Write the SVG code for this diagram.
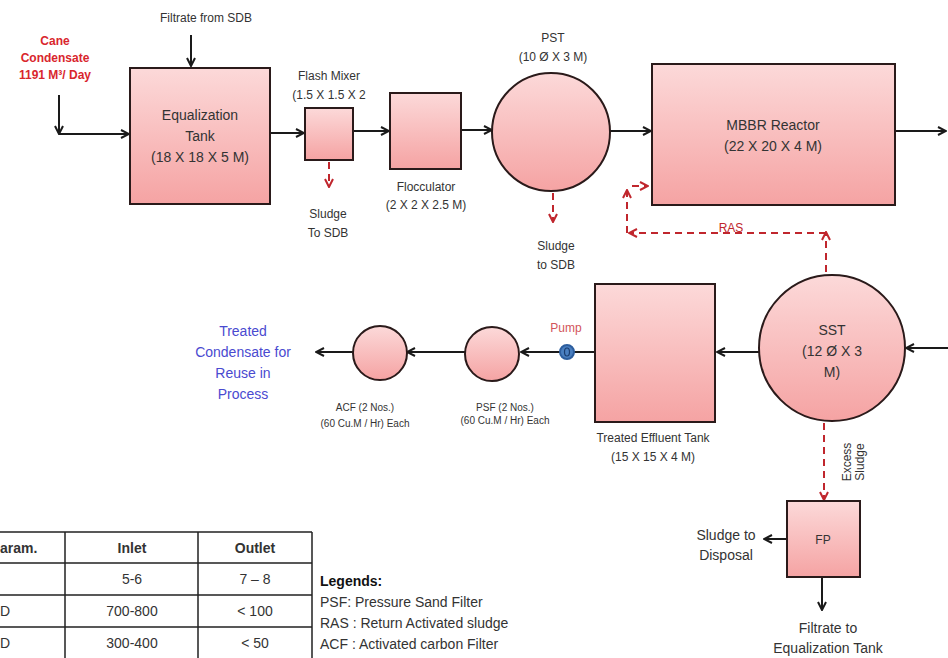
<svg xmlns="http://www.w3.org/2000/svg" width="948" height="658" viewBox="0 0 948 658">
<defs>
<linearGradient id="pink" x1="0" y1="0" x2="0" y2="1">
<stop offset="0" stop-color="#fcd9d9"/>
<stop offset="1" stop-color="#f5a3a3"/>
</linearGradient>
<marker id="ah" viewBox="0 0 10 10" refX="9" refY="5" markerWidth="10" markerHeight="10" markerUnits="userSpaceOnUse" orient="auto">
<path d="M1,1 L9,5 L1,9" fill="none" stroke="#1a1a1a" stroke-width="2"/>
</marker>
<marker id="rah" viewBox="0 0 10 10" refX="9" refY="5" markerWidth="10" markerHeight="10" markerUnits="userSpaceOnUse" orient="auto">
<path d="M1,1 L9,5 L1,9" fill="none" stroke="#c0262d" stroke-width="2"/>
</marker>
</defs>
<style>
text{font-family:"Liberation Sans",Arial,sans-serif;fill:#333;text-anchor:middle}
.big{font-size:14px}
.sm{font-size:12px}
.xs{font-size:10px}
.shape{fill:url(#pink);stroke:#2a1a1a;stroke-width:2}
.ln{stroke:#1a1a1a;stroke-width:2;fill:none}
.dash{stroke:#c0262d;stroke-width:2;fill:none;stroke-dasharray:7,5}
.tbl{stroke:#222;stroke-width:1.5;fill:none}
</style>
<rect width="948" height="658" fill="#fff"/>

<g id="connectors">
<path class="ln" d="M191,35 V66" marker-end="url(#ah)"/>
<path class="ln" d="M59,95 V134" marker-end="url(#ah)"/>
<path class="ln" d="M59,134 H129" marker-end="url(#ah)"/>
<path class="ln" d="M270,133 H304" marker-end="url(#ah)"/>
<path class="ln" d="M353,131 H389" marker-end="url(#ah)"/>
<path class="ln" d="M461,130 H492" marker-end="url(#ah)"/>
<path class="ln" d="M610,131 H651" marker-end="url(#ah)"/>
<path class="ln" d="M895,131 H946" marker-end="url(#ah)"/>
<path class="ln" d="M948,348 H906" marker-end="url(#ah)"/>
<path class="ln" d="M759,352 H717" marker-end="url(#ah)"/>
<path class="ln" d="M595,352 H574"/>
<path class="ln" d="M560,352 H521" marker-end="url(#ah)"/>
<path class="ln" d="M465,352 H407" marker-end="url(#ah)"/>
<path class="ln" d="M353,352 H316" marker-end="url(#ah)"/>
<path class="ln" d="M787,539 H764" marker-end="url(#ah)"/>
<path class="ln" d="M822,577 V610" marker-end="url(#ah)"/>
<path class="dash" d="M329,162 V187" marker-end="url(#rah)"/>
<path class="dash" d="M553,193 V222" marker-end="url(#rah)"/>
<path class="dash" d="M826,272 V232" marker-end="url(#rah)"/>
<path class="dash" d="M826,233 H629" marker-end="url(#rah)"/>
<path class="dash" d="M627,233 V190" marker-end="url(#rah)"/>
<path class="dash" d="M632,186 H648" marker-end="url(#rah)"/>
<path class="dash" d="M824,423 V500" marker-end="url(#rah)"/>
<text x="731" y="232" class="sm" style="fill:#c0262d">RAS</text>
<g transform="translate(851,462) rotate(-90)"><text x="0" y="0" class="sm">Excess</text><text x="0" y="13" class="sm">Sludge</text></g>
</g>

<g id="cane">
<text x="55" y="45" class="sm" style="fill:#d9262d;font-weight:bold">Cane</text>
<text x="55" y="62" class="sm" style="fill:#d9262d;font-weight:bold">Condensate</text>
<text x="55" y="79" class="sm" style="fill:#d9262d;font-weight:bold">1191 M³/ Day</text>
</g>
<g id="filtrate-sdb"><text x="206" y="22" class="sm">Filtrate from SDB</text></g>

<g id="eq">
<rect class="shape" x="130" y="68" width="140" height="136"/>
<text x="200" y="120" class="big">Equalization</text>
<text x="200" y="141" class="big">Tank</text>
<text x="200" y="162" class="big">(18 X 18 X 5 M)</text>
</g>

<g id="flash">
<rect class="shape" x="305" y="108" width="48" height="52"/>
<text x="329" y="80" class="sm">Flash Mixer</text>
<text x="329" y="99" class="sm">(1.5 X 1.5 X 2</text>
<text x="328" y="218" class="sm">Sludge</text>
<text x="328" y="237" class="sm">To SDB</text>
</g>

<g id="floc">
<rect class="shape" x="390" y="93" width="71" height="76"/>
<text x="426" y="191" class="sm">Flocculator</text>
<text x="426" y="209" class="sm">(2 X  2 X 2.5 M)</text>
</g>

<g id="pst">
<circle class="shape" cx="551" cy="132" r="59"/>
<text x="553" y="42" class="sm">PST</text>
<text x="553" y="61" class="sm">(10 Ø X 3 M)</text>
<text x="556" y="250" class="sm">Sludge</text>
<text x="556" y="269" class="sm">to SDB</text>
</g>

<g id="mbbr">
<rect class="shape" x="652" y="64" width="243" height="141"/>
<text x="773" y="130" class="big">MBBR Reactor</text>
<text x="773" y="151" class="big">(22 X 20 X 4 M)</text>
</g>

<g id="sst">
<circle class="shape" cx="832" cy="348" r="73"/>
<text x="832" y="335" class="big">SST</text>
<text x="832" y="356" class="big">(12 Ø X 3</text>
<text x="832" y="377" class="big">M)</text>
</g>

<g id="tet">
<rect class="shape" x="595" y="284" width="120" height="138"/>
<text x="653" y="442" class="sm">Treated Effluent Tank</text>
<text x="653" y="461" class="sm">(15 X 15 X 4 M)</text>
</g>

<g id="pump">
<circle cx="567" cy="352" r="7" fill="#4a7fc0" stroke="#2d5e9e" stroke-width="2"/>
<ellipse cx="567" cy="352" rx="2.5" ry="4" fill="none" stroke="#1a3d70" stroke-width="1.2"/>
<text x="566" y="332" class="sm" style="fill:#d2555a">Pump</text>
</g>

<g id="psf">
<circle class="shape" cx="492" cy="354" r="27"/>
<text x="505" y="411" class="xs">PSF (2 Nos.)</text>
<text x="505" y="424" class="xs">(60 Cu.M / Hr) Each</text>
</g>

<g id="acf">
<circle class="shape" cx="380" cy="353" r="27"/>
<text x="365" y="411" class="xs">ACF (2 Nos.)</text>
<text x="365" y="427" class="xs">(60 Cu.M / Hr) Each</text>
</g>

<g id="treated">
<text x="243" y="336" class="big" style="fill:#4a4ad0">Treated</text>
<text x="243" y="357" class="big" style="fill:#4a4ad0">Condensate for</text>
<text x="243" y="378" class="big" style="fill:#4a4ad0">Reuse in</text>
<text x="243" y="399" class="big" style="fill:#4a4ad0">Process</text>
</g>

<g id="fp">
<rect class="shape" x="787" y="501" width="73" height="76"/>
<text x="823" y="544" class="sm">FP</text>
<text x="726" y="540" class="big">Sludge to</text>
<text x="726" y="560" class="big">Disposal</text>
<text x="828" y="633" class="big">Filtrate to</text>
<text x="828" y="653" class="big">Equalization Tank</text>
</g>

<g id="table">
<path class="tbl" d="M0,532 H312 M0,563 H312 M0,595 H312 M0,627 H312 M65,532 V658 M198,532 V658 M312,532 V658"/>
<text x="0" y="553" class="big" style="text-anchor:start;font-weight:bold">aram.</text>
<text x="132" y="553" class="big" style="font-weight:bold">Inlet</text>
<text x="255" y="553" class="big" style="font-weight:bold">Outlet</text>
<text x="132" y="584" class="big">5-6</text>
<text x="255" y="584" class="big">7 – 8</text>
<text x="0" y="616" class="big" style="text-anchor:start">D</text>
<text x="132" y="616" class="big">700-800</text>
<text x="255" y="616" class="big">&lt; 100</text>
<text x="0" y="648" class="big" style="text-anchor:start">D</text>
<text x="132" y="648" class="big">300-400</text>
<text x="255" y="648" class="big">&lt; 50</text>
</g>

<g id="legend">
<text x="320" y="586" class="big" style="text-anchor:start;font-weight:bold;fill:#111">Legends:</text>
<text x="320" y="607" class="big" style="text-anchor:start">PSF: Pressure Sand Filter</text>
<text x="320" y="628" class="big" style="text-anchor:start">RAS : Return Activated sludge</text>
<text x="320" y="649" class="big" style="text-anchor:start">ACF : Activated carbon Filter</text>
</g>
</svg>
